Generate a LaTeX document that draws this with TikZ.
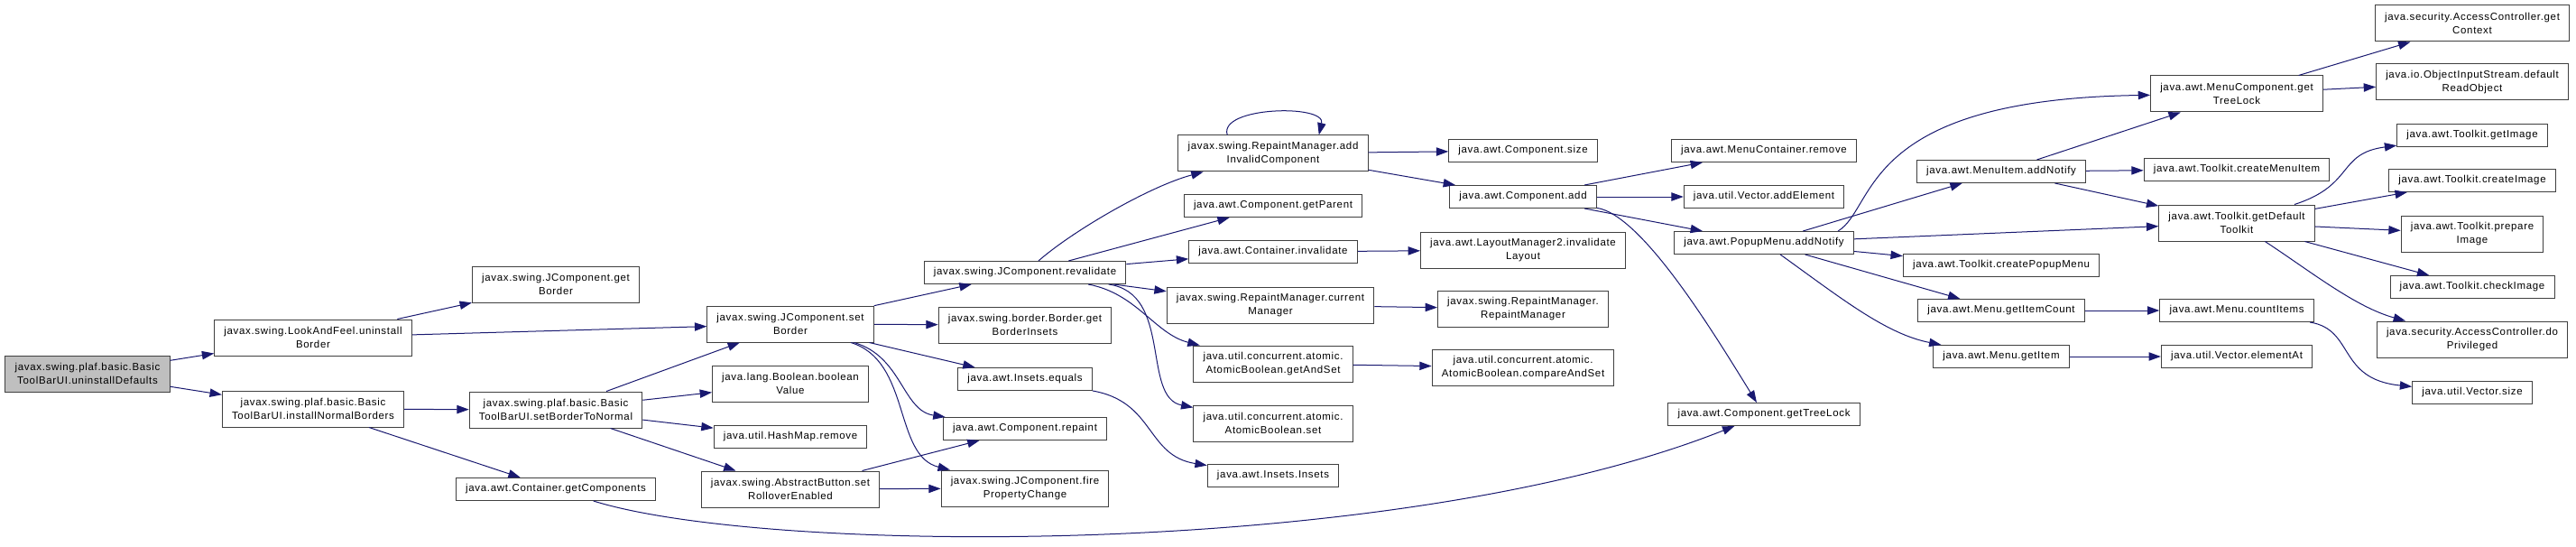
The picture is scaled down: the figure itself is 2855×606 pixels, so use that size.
\documentclass[tikz,border=0pt]{standalone}
\usepackage{fontspec}
\setmainfont{Liberation Sans}[LetterSpace=6]
\usetikzlibrary{arrows.meta}

\definecolor{edgeblue}{HTML}{191970}
\definecolor{rootgray}{HTML}{BFBFBF}
\definecolor{boxline}{HTML}{404040}

\tikzset{every picture/.style={line width=0.75pt}}
\tikzset{
  callbox/.style={draw=boxline, fill=white, align=center, inner xsep=8pt, inner ysep=1pt,
    minimum height=18.75pt, font=\fontsize{8.6}{10.7}\selectfont},
  twoline/.style={callbox, minimum height=30pt},
  rootbox/.style={twoline, fill=rootgray},
  callarrow/.style={draw=edgeblue, -{Triangle[length=10pt,width=7pt]}},
}

\begin{document}
\begin{tikzpicture}[x=0.75pt,y=0.75pt,yscale=-1,xscale=1]
\fill[white] (0,0) rectangle (2855,606);
\useasboundingbox (0,0) rectangle (2855,606);

% Column 1
\draw (97,414) node [rootbox] (root) {javax.swing.plaf.basic.Basic\\ToolBarUI.uninstallDefaults};
% Column 2
\draw (347,374) node [twoline] (lafuninstall) {javax.swing.LookAndFeel.uninstall\\Border};
\draw (347,453) node [twoline] (installnormal) {javax.swing.plaf.basic.Basic\\ToolBarUI.installNormalBorders};
% Column 3
\draw (616,315) node [twoline] (getborder) {javax.swing.JComponent.get\\Border};
\draw (616,454) node [twoline] (settonormal) {javax.swing.plaf.basic.Basic\\ToolBarUI.setBorderToNormal};
\draw (616,542) node [callbox] (getcomps) {java.awt.Container.getComponents};
% Column 4
\draw (876,359) node [twoline] (setborder) {javax.swing.JComponent.set\\Border};
\draw (876,425) node [twoline] (boolvalue) {java.lang.Boolean.boolean\\Value};
\draw (876,484) node [callbox] (hashremove) {java.util.HashMap.remove};
\draw (876,542) node [twoline] (setrollover) {javax.swing.AbstractButton.set\\RolloverEnabled};
% Column 5
\draw (1136,302) node [callbox] (revalidate) {javax.swing.JComponent.revalidate};
\draw (1136,360) node [twoline] (getinsets) {javax.swing.border.Border.get\\BorderInsets};
\draw (1136,420) node [callbox] (insetsequals) {java.awt.Insets.equals};
\draw (1136,475) node [callbox] (repaint) {java.awt.Component.repaint};
\draw (1136,541) node [twoline] (firechange) {javax.swing.JComponent.fire\\PropertyChange};
% Column 6
\draw (1411,170) node [twoline] (addinvalid) {javax.swing.RepaintManager.add\\InvalidComponent};
\draw (1411,228) node [callbox] (getparent) {java.awt.Component.getParent};
\draw (1411,279) node [callbox] (invalidate) {java.awt.Container.invalidate};
\draw (1408,338) node [twoline] (curmanager) {javax.swing.RepaintManager.current\\Manager};
\draw (1411,403) node [twoline] (getandset) {java.util.concurrent.atomic.\\AtomicBoolean.getAndSet};
\draw (1411,469) node [twoline] (atomicset) {java.util.concurrent.atomic.\\AtomicBoolean.set};
\draw (1411,527) node [callbox] (insets) {java.awt.Insets.Insets};
% Column 7
\draw (1688,167) node [callbox] (compsize) {java.awt.Component.size};
\draw (1688,218) node [callbox] (compadd) {java.awt.Component.add};
\draw (1688,277) node [twoline] (invlayout) {java.awt.LayoutManager2.invalidate\\Layout};
\draw (1688,342) node [twoline] (rmctor) {javax.swing.RepaintManager.\\RepaintManager};
\draw (1688,407) node [twoline] (compareset) {java.util.concurrent.atomic.\\AtomicBoolean.compareAndSet};
% Column 8
\draw (1955,167) node [callbox] (mcremove) {java.awt.MenuContainer.remove};
\draw (1955,218) node [callbox] (addelement) {java.util.Vector.addElement};
\draw (1955,269) node [callbox] (popupnotify) {java.awt.PopupMenu.addNotify};
\draw (1955,459) node [callbox] (treelock) {java.awt.Component.getTreeLock};
% Column 9
\draw (2218,190) node [callbox] (itemnotify) {java.awt.MenuItem.addNotify};
\draw (2218,294) node [callbox] (createpopup) {java.awt.Toolkit.createPopupMenu};
\draw (2218,344) node [callbox] (itemcount) {java.awt.Menu.getItemCount};
\draw (2218,395) node [callbox] (getitem) {java.awt.Menu.getItem};
% Column 10
\draw (2479,104) node [twoline] (menutreelock) {java.awt.MenuComponent.get\\TreeLock};
\draw (2479,188) node [callbox] (createitem) {java.awt.Toolkit.createMenuItem};
\draw (2479,247) node [twoline] (deftoolkit) {java.awt.Toolkit.getDefault\\Toolkit};
\draw (2479,344) node [callbox] (countitems) {java.awt.Menu.countItems};
\draw (2479,395) node [callbox] (elementat) {java.util.Vector.elementAt};
% Column 11
\draw (2740,26) node [twoline] (getcontext) {java.security.AccessController.get\\Context};
\draw (2740,91) node [twoline] (readobject) {java.io.ObjectInputStream.default\\ReadObject};
\draw (2740,150) node [callbox] (getimage) {java.awt.Toolkit.getImage};
\draw (2740,200) node [callbox] (createimage) {java.awt.Toolkit.createImage};
\draw (2740,259) node [twoline] (prepareimage) {java.awt.Toolkit.prepare\\Image};
\draw (2740,318) node [callbox] (checkimage) {java.awt.Toolkit.checkImage};
\draw (2740,376) node [twoline] (doprivileged) {java.security.AccessController.do\\Privileged};
\draw (2740,435) node [callbox] (vectorsize) {java.util.Vector.size};

% Straight calls
\draw [callarrow] (root) -- (lafuninstall) ;
\draw [callarrow] (root) -- (installnormal) ;
\draw [callarrow] (lafuninstall) -- (getborder) ;
\draw [callarrow] (lafuninstall) -- (setborder) ;
\draw [callarrow] (installnormal) -- (settonormal) ;
\draw [callarrow] (installnormal) -- (getcomps) ;
\draw [callarrow] (settonormal) -- (setborder) ;
\draw [callarrow] (settonormal) -- (boolvalue) ;
\draw [callarrow] (settonormal) -- (hashremove) ;
\draw [callarrow] (settonormal) -- (setrollover) ;
\draw [callarrow] (setborder) -- (revalidate) ;
\draw [callarrow] (setborder) -- (getinsets) ;
\draw [callarrow] (setborder) -- (insetsequals) ;
\draw [callarrow] (setrollover) -- (repaint) ;
\draw [callarrow] (setrollover) -- (firechange) ;
\draw [callarrow] (revalidate) -- (getparent) ;
\draw [callarrow] (revalidate) -- (invalidate) ;
\draw [callarrow] (revalidate) -- (curmanager) ;
\draw [callarrow] (addinvalid) -- (compsize) ;
\draw [callarrow] (addinvalid) -- (compadd) ;
\draw [callarrow] (invalidate) -- (invlayout) ;
\draw [callarrow] (curmanager) -- (rmctor) ;
\draw [callarrow] (getandset) -- (compareset) ;
\draw [callarrow] (compadd) -- (mcremove) ;
\draw [callarrow] (compadd) -- (addelement) ;
\draw [callarrow] (compadd) -- (popupnotify) ;
\draw [callarrow] (popupnotify) -- (itemnotify) ;
\draw [callarrow] (popupnotify) -- (deftoolkit) ;
\draw [callarrow] (popupnotify) -- (createpopup) ;
\draw [callarrow] (popupnotify) -- (itemcount) ;
\draw [callarrow] (itemnotify) -- (menutreelock) ;
\draw [callarrow] (itemnotify) -- (createitem) ;
\draw [callarrow] (itemnotify) -- (deftoolkit) ;
\draw [callarrow] (itemcount) -- (countitems) ;
\draw [callarrow] (getitem) -- (elementat) ;
\draw [callarrow] (menutreelock) -- (getcontext) ;
\draw [callarrow] (menutreelock) -- (readobject) ;
\draw [callarrow] (deftoolkit) -- (createimage) ;
\draw [callarrow] (deftoolkit) -- (prepareimage) ;
\draw [callarrow] (deftoolkit) -- (checkimage) ;

% Curved calls
\draw [callarrow] (setborder) .. controls (1000,395) and (1000,455) .. (repaint) ;
\draw [callarrow] (setborder) .. controls (1010,400) and (990,505) .. (firechange) ;
\draw [callarrow] (revalidate) .. controls (1190,255) and (1275,206) .. (addinvalid) ;
\draw [callarrow] (revalidate) .. controls (1260,325) and (1280,370) .. (getandset) ;
\draw [callarrow] (revalidate) .. controls (1300,325) and (1265,440) .. (atomicset) ;
\draw [callarrow] (insetsequals) .. controls (1280,445) and (1270,505) .. (insets) ;
\draw [callarrow] (addinvalid.158) .. controls (1350,118) and (1470,115) .. (addinvalid.22) ;
\draw [callarrow] (compadd) .. controls (1820,238) and (1900,370) .. (treelock) ;
\draw [callarrow] (getcomps) .. controls (850,615) and (1550,620) .. (treelock) ;
\draw [callarrow] (popupnotify.9) .. controls (2080,230) and (2060,110) .. (menutreelock) ;
\draw [callarrow] (popupnotify) .. controls (2040,330) and (2090,370) .. (getitem) ;
\draw [callarrow] (deftoolkit) .. controls (2610,205) and (2590,170) .. (getimage) ;
\draw [callarrow] (deftoolkit) .. controls (2560,300) and (2610,340) .. (doprivileged) ;
\draw [callarrow] (countitems) .. controls (2610,365) and (2590,420) .. (vectorsize) ;

\end{tikzpicture}
\end{document}
